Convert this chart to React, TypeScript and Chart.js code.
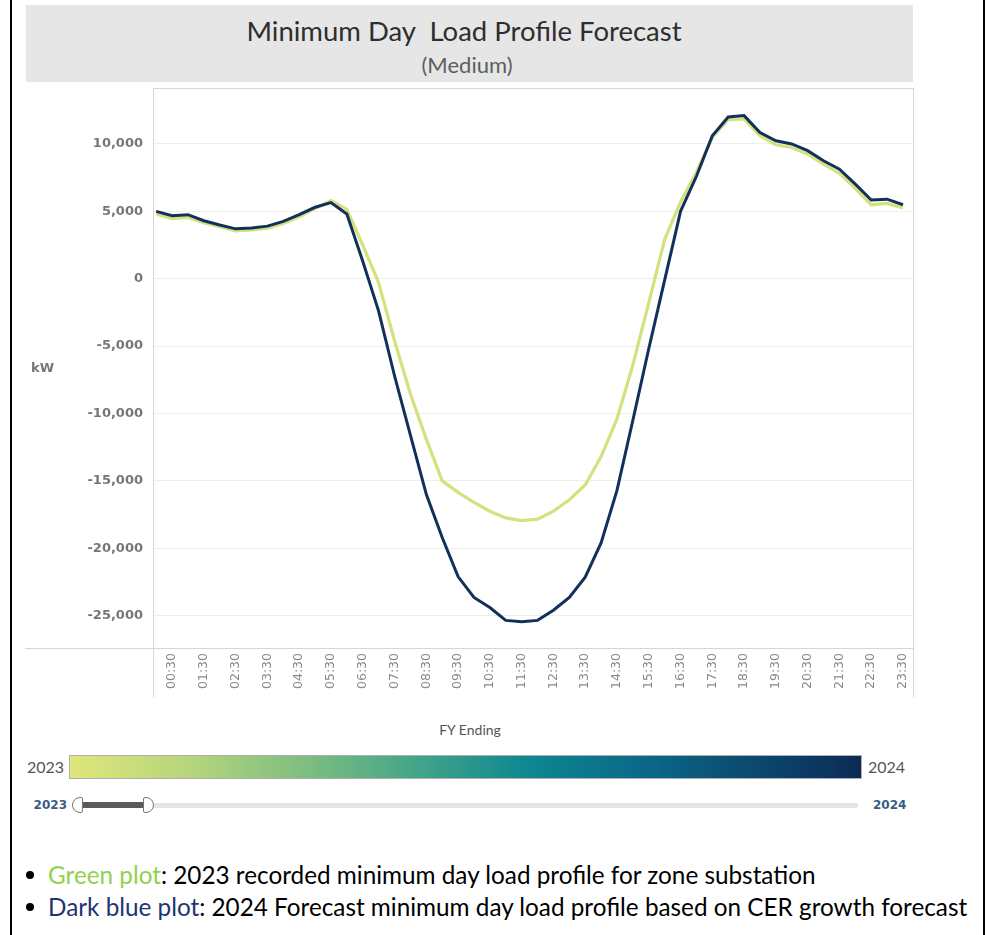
import React, { useEffect, useRef } from "react";
import { Chart, registerables } from "chart.js";

Chart.register(...registerables);

const TIMES = [
  "00:00", "00:30", "01:00", "01:30", "02:00", "02:30", "03:00", "03:30",
  "04:00", "04:30", "05:00", "05:30", "06:00", "06:30", "07:00", "07:30",
  "08:00", "08:30", "09:00", "09:30", "10:00", "10:30", "11:00", "11:30",
  "12:00", "12:30", "13:00", "13:30", "14:00", "14:30", "15:00", "15:30",
  "16:00", "16:30", "17:00", "17:30", "18:00", "18:30", "19:00", "19:30",
  "20:00", "20:30", "21:00", "21:30", "22:00", "22:30", "23:00", "23:30",
];

const TICK_LABELS = [
  "00:30", "01:30", "02:30", "03:30", "04:30", "05:30", "06:30", "07:30",
  "08:30", "09:30", "10:30", "11:30", "12:30", "13:30", "14:30", "15:30",
  "16:30", "17:30", "18:30", "19:30", "20:30", "21:30", "22:30", "23:30",
];

// 2023 recorded minimum day load (kW)
const LOAD_2023 = [
  4800, 4450, 4550, 4150, 3850, 3550, 3620, 3750,
  4100, 4600, 5200, 5800, 5150, 2500, -300, -4600,
  -8550, -11900, -15000, -15850, -16600, -17250, -17750, -17950,
  -17850, -17250, -16400, -15300, -13200, -10400, -6400, -1800,
  2900, 5700, 7900, 10500, 11800, 11850, 10600, 9940,
  9740, 9250, 8500, 7810, 6700, 5490, 5590, 5240,
];

// 2024 forecast minimum day load (kW)
const LOAD_2024 = [
  5000, 4670, 4750, 4300, 3980, 3700, 3760, 3900,
  4250, 4750, 5300, 5650, 4800, 1300, -2400, -7200,
  -11600, -16000, -19200, -22100, -23650, -24400, -25350, -25450,
  -25350, -24600, -23650, -22150, -19600, -15700, -10500, -5200,
  -100, 5000, 7600, 10600, 12000, 12100, 10850, 10230,
  10000, 9500, 8750, 8130, 7020, 5840, 5900, 5490,
];

const Y_TICKS = [-25000, -20000, -15000, -10000, -5000, 0, 5000, 10000];
const Y_MIN = -27400;
const Y_MAX = 14150;
const X_MIN = -0.2;
const X_MAX = 47.63;

const CANVAS_LEFT = 20;
const CANVAS_TOP = 80;
const CANVAS_W = 900;
const CANVAS_H = 625;

const framePlugin = {
  id: "frame",
  afterDraw(chart: any) {
    const { ctx, chartArea } = chart;
    const { left, right, top, bottom } = chartArea;
    ctx.save();
    ctx.strokeStyle = "#d6d6d6";
    ctx.lineWidth = 1;
    ctx.beginPath();
    ctx.moveTo(left, top + 0.5);
    ctx.lineTo(right, top + 0.5);
    ctx.moveTo(right + 0.5, top);
    ctx.lineTo(right + 0.5, 617);
    ctx.moveTo(left + 0.5, top);
    ctx.lineTo(left + 0.5, 617);
    ctx.moveTo(5, bottom + 0.5);
    ctx.lineTo(right, bottom + 0.5);
    ctx.stroke();
    ctx.restore();
  },
};

function LoadChart() {
  const ref = useRef<HTMLCanvasElement | null>(null);
  useEffect(() => {
    if (!ref.current) return;
    const toPoints = (arr: number[]) => arr.map((y, i) => ({ x: i, y }));
    const tickIdx = TICK_LABELS.map((l) => TIMES.indexOf(l));
    const chart = new Chart(ref.current, {
      type: "line",
      data: {
        datasets: [
          {
            label: "2024",
            data: toPoints(LOAD_2024),
            borderColor: "#13305b",
            borderWidth: 3,
            pointRadius: 0,
            tension: 0,
            order: 1,
          },
          {
            label: "2023",
            data: toPoints(LOAD_2023),
            borderColor: "#d3e27c",
            borderWidth: 3.2,
            pointRadius: 0,
            tension: 0,
            order: 2,
          },
        ],
      },
      options: {
        animation: false,
        responsive: false,
        devicePixelRatio: 1,
        layout: { padding: { top: 8, right: 7, left: 0, bottom: 0 } },
        plugins: {
          legend: { display: false },
          tooltip: { enabled: false },
          title: { display: false },
        },
        scales: {
          x: {
            type: "linear",
            min: X_MIN,
            max: X_MAX,
            grid: { display: false, drawTicks: false },
            border: { display: false },
            afterBuildTicks: (scale: any) => {
              scale.ticks = tickIdx.map((v) => ({ value: v }));
            },
            ticks: {
              autoSkip: false,
              minRotation: 90,
              maxRotation: 90,
              padding: 5,
              color: "#8a8a8a",
              font: { family: "DejaVu Sans", size: 12.5 },
              callback: (v: any) => TIMES[Math.round(Number(v))] ?? "",
            },
            afterFit: (scale: any) => {
              scale.height = 57;
              scale.paddingLeft = 0;
              scale.paddingRight = 0;
            },
          },
          y: {
            min: Y_MIN,
            max: Y_MAX,
            grid: { color: "#eeeeee", drawTicks: false },
            border: { display: false },
            afterBuildTicks: (scale: any) => {
              scale.ticks = Y_TICKS.map((v) => ({ value: v }));
            },
            ticks: {
              padding: 10,
              color: "#767676",
              font: { family: "DejaVu Sans", size: 13, weight: "bold" },
              callback: (v: any) => Number(v).toLocaleString("en-US"),
            },
            afterFit: (scale: any) => {
              scale.width = 133;
              scale.paddingTop = 0;
              scale.paddingBottom = 0;
            },
          },
        },
      },
      plugins: [framePlugin],
    } as any);
    return () => chart.destroy();
  }, []);
  return (
    <canvas
      ref={ref}
      width={CANVAS_W}
      height={CANVAS_H}
      style={{
        position: "absolute",
        left: CANVAS_LEFT,
        top: CANVAS_TOP,
        width: CANVAS_W,
        height: CANVAS_H,
      }}
    />
  );
}

const abs = (s: React.CSSProperties): React.CSSProperties => ({
  position: "absolute",
  whiteSpace: "nowrap",
  ...s,
});

export default function App() {
  const calib = "Lato, 'Open Sans', sans-serif";
  return (
    <div
      style={{
        position: "absolute",
        left: 0,
        top: 0,
        width: 986,
        height: 935,
        background: "#ffffff",
        overflow: "hidden",
        fontFamily: calib,
      }}
    >
      {/* outer borders */}
      <div style={abs({ left: 10, top: 0, width: 2, height: 935, background: "#000" })} />
      <div style={abs({ left: 983, top: 0, width: 2, height: 935, background: "#000" })} />

      {/* title band */}
      <div style={abs({ left: 26, top: 5, width: 887, height: 77, background: "#e6e6e6" })} />
      <div
        style={abs({
          left: 0,
          top: 15,
          width: 928,
          textAlign: "center",
          fontSize: 27.5,
          lineHeight: "32px",
          color: "#2e2e2e",
        })}
      >
        Minimum Day&nbsp; Load Profile Forecast
      </div>
      <div
        style={abs({
          left: 0,
          top: 52,
          width: 934,
          textAlign: "center",
          fontSize: 22,
          lineHeight: "26px",
          color: "#5e5e5e",
        })}
      >
        (Medium)
      </div>

      <LoadChart />

      {/* axis titles */}
      <div
        style={abs({
          left: 31,
          top: 360,
          fontFamily: "DejaVu Sans",
          fontWeight: "bold",
          fontSize: 13,
          lineHeight: "16px",
          color: "#767676",
        })}
      >
        kW
      </div>
      <div
        style={abs({
          left: 370,
          top: 721,
          width: 200,
          textAlign: "center",
          fontSize: 14,
          lineHeight: "18px",
          color: "#555",
        })}
      >
        FY Ending
      </div>

      {/* colour legend */}
      <div
        style={abs({
          left: 69,
          top: 755,
          width: 793,
          height: 24,
          boxSizing: "border-box",
          border: "1px solid #b0b0b0",
          background:
            "linear-gradient(to right, #dfe67c 0%, #b6d57c 15%, #7dbd80 30%, #3fa28a 45%, #0d8791 58%, #0b6a88 72%, #0b4a70 86%, #0b2b56 100%)",
        })}
      />
      <div style={abs({ left: 0, top: 757, width: 64, textAlign: "right", fontSize: 16, lineHeight: "20px", color: "#555" })}>
        2023
      </div>
      <div style={abs({ left: 868, top: 757, fontSize: 16, lineHeight: "20px", color: "#555" })}>2024</div>

      {/* slider */}
      <div
        style={abs({
          left: 0,
          top: 797,
          width: 67,
          textAlign: "right",
          fontFamily: "DejaVu Sans",
          fontWeight: "bold",
          fontSize: 12,
          lineHeight: "16px",
          color: "#3b5b84",
        })}
      >
        2023
      </div>
      <div style={abs({ left: 152, top: 803, width: 706, height: 5, background: "#e4e4e4", borderRadius: 2 })} />
      <div style={abs({ left: 80, top: 802, width: 66, height: 6, background: "#5a5a5a" })} />
      <div
        style={abs({
          left: 72,
          top: 797,
          width: 11,
          height: 16,
          boxSizing: "border-box",
          border: "1px solid #777",
          background: "#fff",
          borderRadius: "8px 2px 2px 8px",
        })}
      />
      <div
        style={abs({
          left: 143,
          top: 797,
          width: 11,
          height: 16,
          boxSizing: "border-box",
          border: "1px solid #777",
          background: "#fff",
          borderRadius: "2px 8px 8px 2px",
        })}
      />
      <div
        style={abs({
          left: 873,
          top: 797,
          fontFamily: "DejaVu Sans",
          fontWeight: "bold",
          fontSize: 12,
          lineHeight: "16px",
          color: "#3b5b84",
        })}
      >
        2024
      </div>

      {/* notes */}
      <div style={abs({ left: 26, top: 871, width: 8, height: 8, borderRadius: 4, background: "#000" })} />
      <div style={abs({ left: 48, top: 860, fontSize: 24.3, lineHeight: "30px", color: "#000" })}>
        <span style={{ color: "#92d050" }}>Green plot</span>: 2023 recorded minimum day load profile for zone substation
      </div>
      <div style={abs({ left: 26, top: 903, width: 8, height: 8, borderRadius: 4, background: "#000" })} />
      <div style={abs({ left: 48, top: 892, fontSize: 24.3, lineHeight: "30px", color: "#000" })}>
        <span style={{ color: "#1f3470" }}>Dark blue plot</span>: 2024 Forecast minimum day load profile based on CER growth forecast
      </div>
    </div>
  );
}
